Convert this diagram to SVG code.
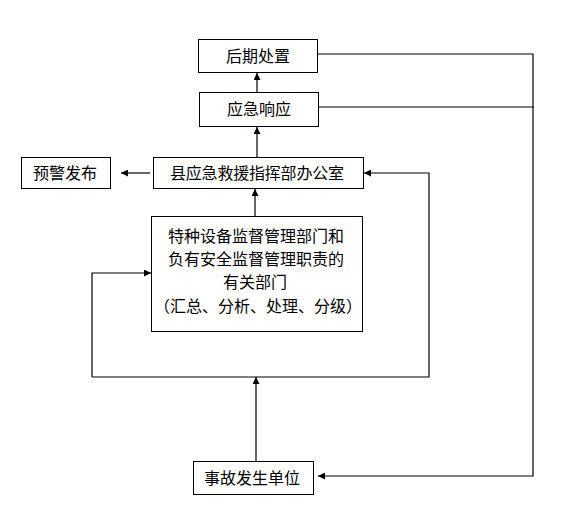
<svg xmlns="http://www.w3.org/2000/svg" width="574" height="525" viewBox="0 0 574 525">
<style>
.box{fill:#fff;stroke:#000;stroke-width:1}
.t{font-family:"Noto Sans CJK SC","Noto Sans CJK TC",sans-serif;font-size:16px;fill:#000;text-anchor:middle}
.c{fill:none;stroke:#000;stroke-width:1.2}
</style>
<defs>
<marker id="ah" viewBox="0 0 10 10" refX="10" refY="5" markerWidth="8" markerHeight="7" markerUnits="userSpaceOnUse" orient="auto">
<path d="M0,0 L10,5 L0,10 z" fill="#000"/>
</marker>
</defs>
<rect width="574" height="525" fill="#fff"/>
<g id="connectors">
<path class="c" d="M257,126 V73" marker-end="url(#ah)"/>
<path class="c" d="M257,157 V127" marker-end="url(#ah)"/>
<path class="c" d="M150,173 H121" marker-end="url(#ah)"/>
<path class="c" d="M255,216 V189" marker-end="url(#ah)"/>
<path class="c" d="M92,377 V273 H151" marker-end="url(#ah)"/>
<path class="c" d="M92,377 H429 V173 H364" marker-end="url(#ah)"/>
<path class="c" d="M256,461 V377" marker-end="url(#ah)"/>
<path class="c" d="M317,54 H533 V476 H318" marker-end="url(#ah)"/>
<path class="c" d="M318,107 H534"/>
</g>
<g id="n1"><rect class="box" x="198.5" y="39.5" width="119" height="33"/><text class="t" x="258" y="61.5">后期处置</text></g>
<g id="n2"><rect class="box" x="199.5" y="92.5" width="119" height="34"/><text class="t" x="259" y="115">应急响应</text></g>
<g id="n3"><rect class="box" x="21.5" y="157.5" width="89" height="31"/><text class="t" x="65" y="178.5">预警发布</text></g>
<g id="n4"><rect class="box" x="153.5" y="157.5" width="210" height="31"/><text class="t" x="257" y="178.5" textLength="174" lengthAdjust="spacing">县应急救援指挥部办公室</text></g>
<g id="n5"><rect class="box" x="151.5" y="216.5" width="211" height="115"/>
<text class="t" x="256" y="242">特种设备监督管理部门和</text>
<text class="t" x="256" y="265">负有安全监督管理职责的</text>
<text class="t" x="255" y="288">有关部门</text>
<text class="t" x="258" y="312">（汇总、分析、处理、分级）</text>
</g>
<g id="n6"><rect class="box" x="193.5" y="461.5" width="120" height="33"/><text class="t" x="252" y="483.5">事故发生单位</text></g>
</svg>
